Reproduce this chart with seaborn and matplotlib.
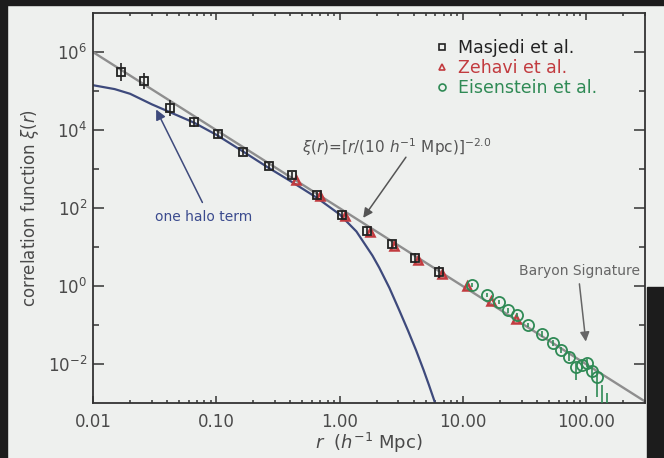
"""
Galaxy two-point correlation function: Masjedi, Zehavi and Eisenstein
measurements against a r^-2 power law and the one halo term.
"""
import matplotlib

matplotlib.use("Agg")
import matplotlib.pyplot as plt
import numpy as np
import seaborn as sns
from matplotlib.lines import Line2D
from matplotlib.patches import Rectangle

# power law xi(r) = [r / (10 h^-1 Mpc)]^-2.0, read at the two ends of the frame
power_r = [0.01, 300.0]
power_xi = [1.0e6, 1.1e-3]

# one halo term (log10 xi)
halo_r = [0.01, 0.015, 0.02, 0.03, 0.042, 0.066, 0.10, 0.165, 0.26, 0.41,
          0.65, 1.0, 1.37, 1.85, 2.1, 2.54, 3.05, 3.6, 4.18, 4.8, 5.3, 5.8, 6.2]
halo_logxi = [5.15, 5.05, 4.93, 4.66, 4.46, 4.19, 3.88, 3.45, 3.05, 2.67,
              2.27, 1.84, 1.40, 0.78, 0.47, -0.05, -0.62, -1.15, -1.65,
              -2.15, -2.53, -2.89, -3.17]

# Masjedi et al. (squares)
masjedi_r = [0.0168, 0.0258, 0.042, 0.066, 0.104, 0.166, 0.266, 0.414, 0.66,
             1.04, 1.66, 2.64, 4.12, 6.45]
masjedi_logxi = [5.49, 5.26, 4.56, 4.21, 3.90, 3.44, 3.08, 2.85, 2.33,
                 1.82, 1.41, 1.08, 0.72, 0.36]
masjedi_err = [0.22, 0.2, 0.2, 0.12, 0.1, 0.08, 0.08, 0.08, 0.08,
               0.1, 0.1, 0.1, 0.12, 0.15]

# Zehavi et al. (triangles)
zehavi_r = [0.44, 0.70, 1.10, 1.75, 2.78, 4.35, 6.8, 10.9, 17.0, 27.1]
zehavi_logxi = [2.72, 2.30, 1.80, 1.38, 1.03, 0.66, 0.30, 0.0, -0.38, -0.85]

# Eisenstein et al. (circles), errors in dex below / above
eisen_r = [11.9, 15.8, 19.8, 23.4, 27.6, 33.9, 44.0, 54.1, 62.8, 72.9,
           83.0, 92.9, 101.9, 111.9, 122.8, 134.8, 147.9]
eisen_logxi = [0.03, -0.23, -0.41, -0.62, -0.74, -1.0, -1.23, -1.46, -1.64,
               -1.82, -2.08, -2.03, -1.97, -2.18, -2.33, -3.3, -3.4]
eisen_lo = [0.06, 0.06, 0.06, 0.06, 0.06, 0.06, 0.07, 0.07, 0.08,
            0.1, 0.33, 0.1, 0.1, 0.12, 0.52, 0.3, 0.3]
eisen_hi = [0.06, 0.06, 0.06, 0.06, 0.06, 0.06, 0.07, 0.07, 0.08,
            0.1, 0.1, 0.1, 0.1, 0.12, 0.15, 0.76, 0.66]

x_ticks = [0.01, 0.1, 1.0, 10.0, 100.0]
x_tick_labels = ["0.01", "0.10", "1.00", "10.00", "100.00"]
y_ticks = [1e-2, 1e0, 1e2, 1e4, 1e6]
y_tick_labels = [r"$10^{-2}$", r"$10^{0}$", r"$10^{2}$", r"$10^{4}$", r"$10^{6}$"]
y_minor = [1e-1, 1e1, 1e3, 1e5]

series_labels = ["Masjedi et al.", "Zehavi et al.", "Eisenstein et al."]
series_colors = ["#222222", "#c23b3f", "#2f8a55"]

BG = "#eef0ee"
TEXT = "#4a4a4a"


def log_err(logxi, lo, hi):
    xi = 10 ** np.asarray(logxi)
    return xi, [xi - xi * 10 ** -np.asarray(lo), xi * 10 ** np.asarray(hi) - xi]


sns.set_style("ticks")
plt.rcParams["font.family"] = ["DejaVu Sans"]
plt.rcParams["mathtext.fontset"] = "dejavusans"

fig = plt.figure(figsize=(6.64, 4.58), dpi=100, facecolor=BG)
ax = fig.add_axes([0.140, 0.120, 0.8313, 0.8515], facecolor=BG)
ax.set_xscale("log")
ax.set_yscale("log")

sns.lineplot(x=power_r, y=power_xi, ax=ax, color="#8e8e8e", lw=1.7, zorder=2)
sns.lineplot(x=halo_r, y=10 ** np.asarray(halo_logxi), ax=ax,
             color="#3e4a7c", lw=1.6, zorder=2)

# data
m_xi, m_err = log_err(masjedi_logxi, masjedi_err, masjedi_err)
z_xi = 10 ** np.asarray(zehavi_logxi)
e_xi, e_err = log_err(eisen_logxi, eisen_lo, eisen_hi)

ax.plot(zehavi_r, z_xi, ls="none", marker="^", ms=5.5, mfc="none",
        mec=series_colors[1], mew=1.8, zorder=3)
ax.errorbar(masjedi_r, m_xi, yerr=m_err, fmt="s", ms=5.5, mfc="none",
            mec=series_colors[0], mew=1.3, ecolor=series_colors[0],
            elinewidth=1.2, capsize=0, zorder=4)
ax.errorbar(eisen_r, e_xi, yerr=e_err, fmt="o", ms=8, mfc="none",
            mec=series_colors[2], mew=1.3, ecolor=series_colors[2],
            elinewidth=1.2, capsize=0, zorder=3)

ax.set_xlim(0.01, 300)
ax.set_ylim(1e-3, 1e7)
ax.set_xticks(x_ticks, labels=x_tick_labels)
ax.set_yticks(y_ticks, labels=y_tick_labels)
ax.set_yticks(y_minor, minor=True)
ax.yaxis.set_minor_formatter(matplotlib.ticker.NullFormatter())
ax.xaxis.set_minor_formatter(matplotlib.ticker.NullFormatter())

ax.tick_params(which="both", direction="in", top=True, right=True,
               color="#333333", width=1.1, labelcolor=TEXT, labelsize=12)
ax.tick_params(axis="x", which="major", length=5, pad=7)
ax.tick_params(axis="x", which="minor", length=2.5)
ax.tick_params(axis="y", which="major", length=8, pad=4)
ax.tick_params(axis="y", which="minor", length=4.5)
for spine in ax.spines.values():
    spine.set_color("#333333")
    spine.set_linewidth(1.3)

ax.set_xlabel(r"$r$  ($h^{-1}$ Mpc)", fontsize=13, color=TEXT, labelpad=0)
ax.set_ylabel(r"correlation function $\xi(r)$", fontsize=12, color=TEXT,
              labelpad=5)

# legend with markers only
handles = [
    Line2D([], [], ls="none", marker="s", ms=5, mfc="none",
           mec=series_colors[0], mew=1.2),
    Line2D([], [], ls="none", marker="^", ms=5, mfc="none",
           mec=series_colors[1], mew=1.2),
    Line2D([], [], ls="none", marker="o", ms=5, mfc="none",
           mec=series_colors[2], mew=1.2),
]
leg = ax.legend(handles, series_labels, loc="upper left",
                bbox_to_anchor=(0.623, 0.933), frameon=False, fontsize=12.5,
                handlelength=0.6, handletextpad=0.6, borderpad=0,
                borderaxespad=0, labelspacing=0.12)
for text, color in zip(leg.get_texts(), series_colors):
    text.set_color(color)

# annotations
ax.text(0.50, 3.6e3, r"$\xi(r)$=[$r$/(10 $h^{-1}$ Mpc)]$^{-2.0}$",
        fontsize=11, color="#555555", ha="left", va="center")
ax.annotate("", xy=(1.51, 49), xytext=(3.56, 2.3e3),
            arrowprops=dict(arrowstyle="-|>", color="#555555", lw=1.1,
                            mutation_scale=14))

ax.text(0.079, 59, "one halo term", fontsize=10, color="#3b4b8e",
        ha="center", va="center")
ax.annotate("", xy=(0.0318, 3.9e4), xytext=(0.079, 120),
            arrowprops=dict(arrowstyle="-|>", color="#3e4a7c", lw=1.1,
                            mutation_scale=15))

ax.text(87.7, 2.43, "Baryon Signature", fontsize=10, color="#666666",
        ha="center", va="center")
ax.annotate("", xy=(100, 0.032), xytext=(87.7, 1.34),
            arrowprops=dict(arrowstyle="-|>", color="#666666", lw=1.1,
                            mutation_scale=14))

# screen-capture border around the slide
for x0, y0, w, h in [(0, 0, 7 / 664, 1), (0, 1 - 5 / 458, 1, 5 / 458),
                     (647 / 664, 0, 17 / 664, 171 / 458)]:
    fig.add_artist(Rectangle((x0, y0), w, h, transform=fig.transFigure,
                             color="#1c1c1c", zorder=-1))

fig.savefig("out.png", dpi=100, facecolor=BG)
